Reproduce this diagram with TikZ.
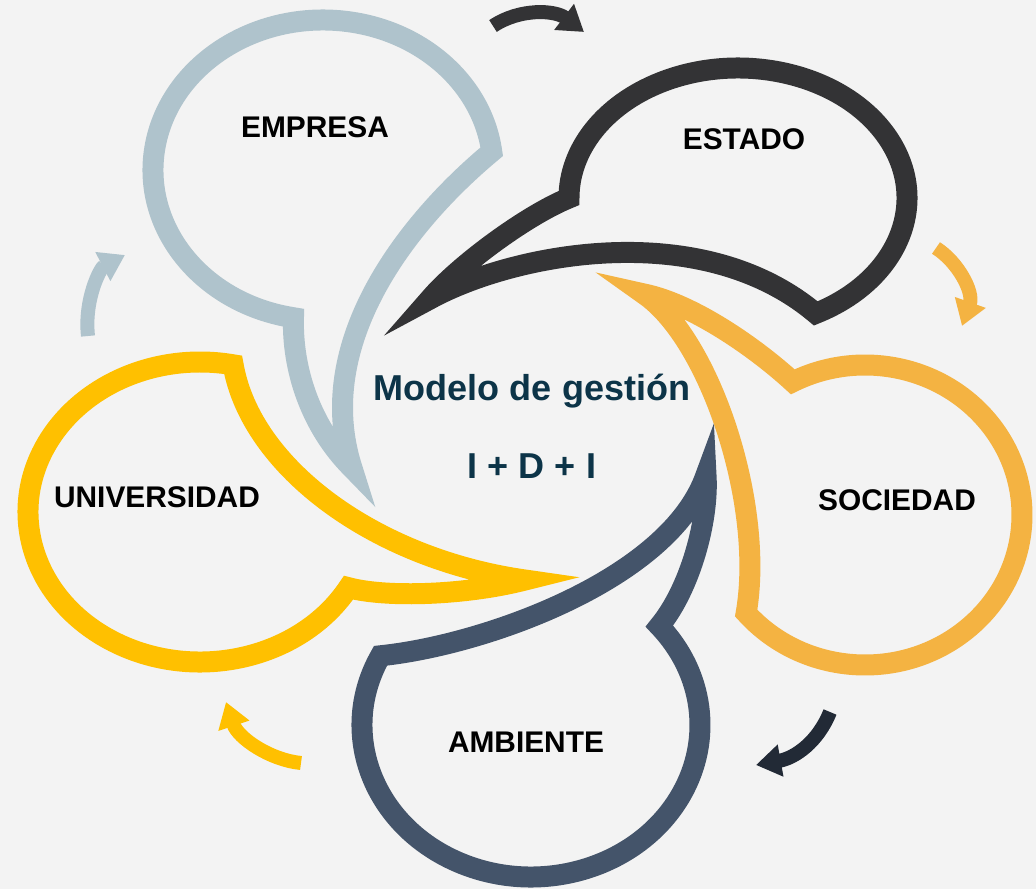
\documentclass[tikz,border=0pt]{standalone}
\usepackage{fontspec}
\setmainfont{Liberation Sans}
\usetikzlibrary{calc,arrows.meta}

\definecolor{empresagray}{RGB}{175,195,204}
\definecolor{estadoblack}{RGB}{51,51,53}
\definecolor{sociedadorange}{RGB}{244,179,66}
\definecolor{ambientenavy}{RGB}{68,84,106}
\definecolor{universidadyellow}{RGB}{255,192,0}
\definecolor{arrowdark}{RGB}{34,42,54}
\definecolor{titleblue}{RGB}{12,52,72}
\definecolor{paper}{RGB}{243,243,243}

\begin{document}
\begin{tikzpicture}[x=0.02cm, y=-0.02cm,
    bubble/.style={line width=0.42cm, line join=miter, miter limit=12},
    cyclearrow/.style={line width=0.28cm, -{Triangle[length=0.5cm, width=0.62cm]}},
    actor/.style={font=\bfseries\fontsize{17}{20}\selectfont, anchor=base},
    modelo/.style={font=\bfseries\fontsize{20.5}{24}\selectfont, text=titleblue, anchor=base}]

    % paper background
    \useasboundingbox (0,0) rectangle (1036,889);
    \fill[paper] (0,0) rectangle (1036,889);

    % EMPRESA bubble
    \draw[bubble, empresagray] ($(323,170)+(100:170 and 150)$)
        arc[start angle=100, end angle=353, x radius=170, y radius=150]
        .. controls (406,223) and (312,344) .. (352,468)
        .. controls (310,426) and (292,368) .. cycle;

    % ESTADO bubble
    \draw[bubble, estadoblack] ($(738,198)+(62.6:169 and 130)$)
        arc[start angle=62.6, end angle=-180, x radius=169, y radius=130]
        .. controls (527,215) and (459,265) .. (430,299)
        .. controls (512,254) and (700,216) .. cycle;

    % SOCIEDAD bubble
    \draw[bubble, sociedadorange] ($(865,515)+(139.2:157 and 150)$)
        arc[start angle=139.2, end angle=-117.4, x radius=157, y radius=150]
        .. controls (756,348) and (693,304) .. (644,294)
        .. controls (710,339) and (765,505) .. cycle;

    % AMBIENTE bubble
    \draw[bubble, ambientenavy] ($(531,725)+(207.1:169 and 152)$)
        arc[start angle=207.1, end angle=-40.6, x radius=169, y radius=152]
        .. controls (690,589) and (709,520) .. (706,475)
        .. controls (670,579) and (485,645) .. cycle;

    % UNIVERSIDAD bubble
    \draw[bubble, universidadyellow] ($(200,512)+(30.3:172 and 150)$)
        arc[start angle=30.3, end angle=281.1, x radius=172, y radius=150]
        .. controls (251,468) and (376,559) .. (525,580)
        .. controls (467,595) and (387,598) .. cycle;

    % arrows between the bubbles
    \draw[cyclearrow, estadoblack] (493,26) .. controls (520,8) and (555,10) .. (584,32);
    \draw[cyclearrow, sociedadorange] (936,248) .. controls (958,262) and (974,292) .. (962,326);
    \draw[cyclearrow, arrowdark] (830,712) .. controls (818,742) and (795,758) .. (756,765);
    \draw[cyclearrow, universidadyellow] (301,763) .. controls (270,760) and (238,738) .. (226,702);
    \draw[cyclearrow, empresagray] (88,336) .. controls (84,300) and (100,268) .. (125,255);

    % labels
    \node[actor] (empresa) at (315,137) {EMPRESA};
    \node[actor] (estado) at (744,149) {ESTADO};
    \node[actor] (sociedad) at (897,510) {SOCIEDAD};
    \node[actor] (ambiente) at (526,752) {AMBIENTE};
    \node[actor] (universidad) at (157,507) {UNIVERSIDAD};

    % centre text
    \node[modelo] (modelo) at (532,400) {Modelo de gestión};
    \node[modelo] (idi) at (532,478) {I + D + I};
\end{tikzpicture}
\end{document}
